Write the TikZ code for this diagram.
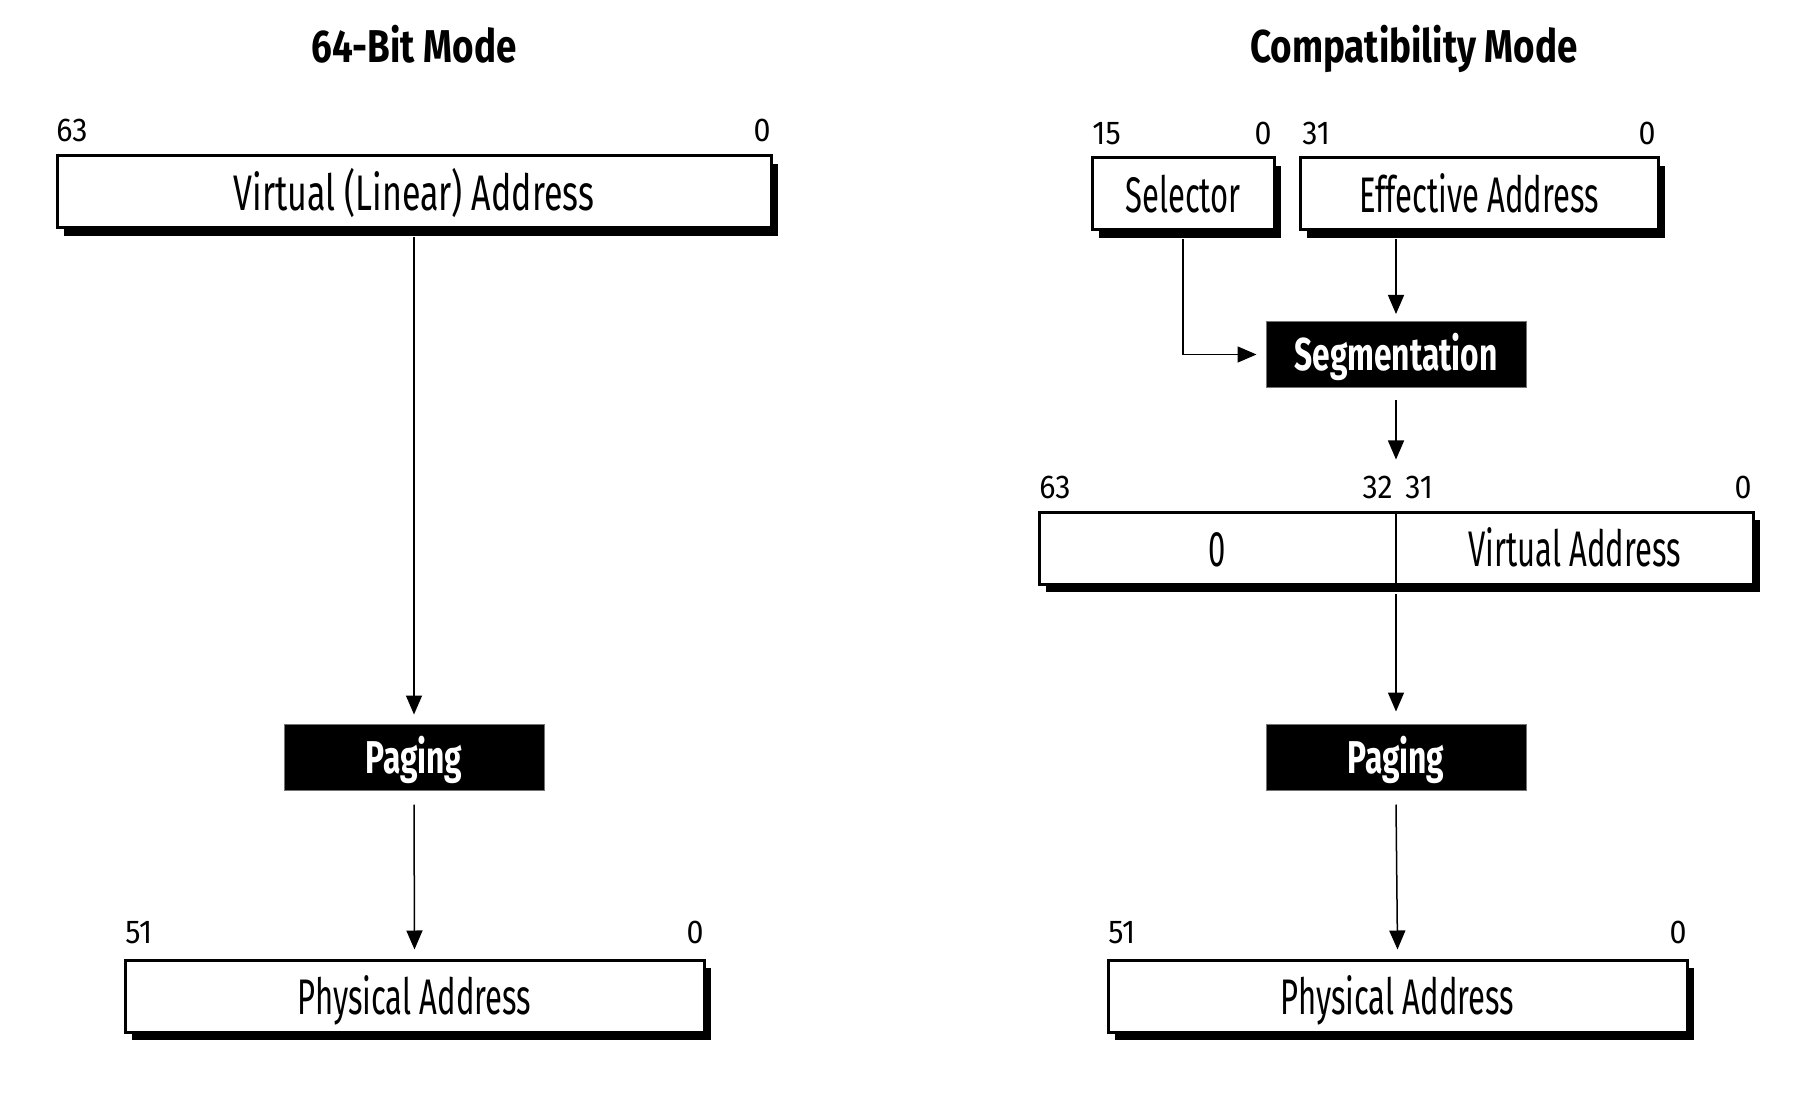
\documentclass[tikz,border=0pt]{standalone}
\usepackage{fontspec}
\setmainfont{Fira Sans}[FakeStretch=0.62]
\newfontfamily\widefont{Fira Sans}[FakeStretch=0.68]
\newfontfamily\numfont{Fira Sans}[FakeStretch=0.92]
\newfontfamily\headfont{Fira Sans}[FakeStretch=0.8]
\newfontfamily\procfont{Fira Sans}[FakeStretch=0.69]
\usetikzlibrary{shadows,arrows.meta,calc}
\begin{document}
\begin{tikzpicture}[x=0.5pt,y=-0.5pt,
  regbox/.style={draw=black, line width=1.5pt, fill=white, rectangle, inner sep=0pt,
    minimum height=36pt, text height=18.5pt, text depth=0pt,
    font=\fontsize{25}{30}\selectfont,
    general shadow={fill=black, shadow xshift=3.5pt, shadow yshift=-4pt}},
  boxtext/.style={inner sep=0pt, text height=18.5pt, text depth=0pt, font=\fontsize{25}{30}\selectfont},
  procbox/.style={draw=black!55, line width=0.5pt, fill=black, text=white, inner sep=0pt,
    minimum width=130pt, minimum height=33pt, text height=16.5pt, text depth=0pt,
    font=\procfont\bfseries\fontsize{23}{28}\selectfont},
  bitlab/.style={inner sep=0pt, text height=11.4pt, text depth=0pt,
    font=\numfont\fontsize{16.5}{20}\selectfont},
  title/.style={inner sep=0pt, text height=16pt, text depth=0pt,
    font=\headfont\bfseries\fontsize{23}{28}\selectfont},
  arr/.style={line width=0.75pt, -{Triangle[length=9.5pt,width=8pt]}}
]
\fill[white] (0,0) rectangle (1793,1096);
\useasboundingbox (0,0) rectangle (1793,1096);

% titles
\node[title] (t1) at (414,47) {64-Bit Mode};
\node[title] (t2) at (1414,47) {Compatibility Mode};

% ---------- 64-bit mode ----------
\node[regbox, minimum width=357pt, font=\widefont\fontsize{25}{30}\selectfont] (virt) at (414,192) {Virtual (Linear) Address};
\node[bitlab, anchor=west] (v63) at (56,130) {63};
\node[bitlab, anchor=east] (v0) at (771,130) {0};

\node[procbox] (pagL) at (414,757) {Paging};

\node[regbox, minimum width=289.5pt] (physL) at (414.5,996) {Physical Address};
\node[bitlab, anchor=west] (pl51) at (125,932) {51};
\node[bitlab, anchor=east] (pl0) at (704,932) {0};

\draw[arr] ([yshift=-4pt]virt.south) -- ([yshift=4.5pt]pagL.north);
\draw[arr] ([yshift=-7pt]pagL.south) -- ([yshift=4.5pt]physL.north);

% ---------- compatibility mode ----------
\node[regbox, minimum width=91pt] (sel) at (1183,194) {Selector};
\node[bitlab, anchor=west] (s15) at (1092,133) {15};
\node[bitlab, anchor=east] (s0) at (1272,133) {0};

\node[regbox, minimum width=179pt] (ea) at (1479,194) {Effective Address};
\node[bitlab, anchor=west] (e31) at (1302,133) {31};
\node[bitlab, anchor=east] (e0) at (1656,133) {0};

\node[procbox] (seg) at (1396,354.5) {Segmentation};

\draw[arr] ($(ea.south -| seg.north)+(0,8)$) -- ([yshift=3.5pt]seg.north);
\draw[arr] ([yshift=-4pt]sel.south) |- ([xshift=-4.5pt]seg.west);

\node[regbox, minimum width=357pt] (comb) at (1396,548) {};
\draw[line width=1pt] (comb.north) -- (comb.south);
\node[boxtext] (zero) at (1217.5,548) {0};
\node[boxtext] (va) at (1574.5,548) {Virtual Address};
\node[bitlab, anchor=west] (c63) at (1039,487) {63};
\node[bitlab, anchor=east] (c32) at (1393,487) {32};
\node[bitlab, anchor=west] (c31) at (1405,487) {31};
\node[bitlab, anchor=east] (c0) at (1752,487) {0};

\draw[arr] ([yshift=-6pt]seg.south) -- ([yshift=25.5pt]comb.north);

\node[procbox] (pagR) at (1396,757) {Paging};
\draw[arr] ([yshift=-4pt]comb.south) -- ([yshift=6pt]pagR.north);

\node[regbox, minimum width=289.5pt] (physR) at (1397.5,996) {Physical Address};
\node[bitlab, anchor=west] (pr51) at (1108,932) {51};
\node[bitlab, anchor=east] (pr0) at (1687,932) {0};

\draw[arr] ([yshift=-7pt]pagR.south) -- ([yshift=4.5pt]physR.north);
\end{tikzpicture}
\end{document}
